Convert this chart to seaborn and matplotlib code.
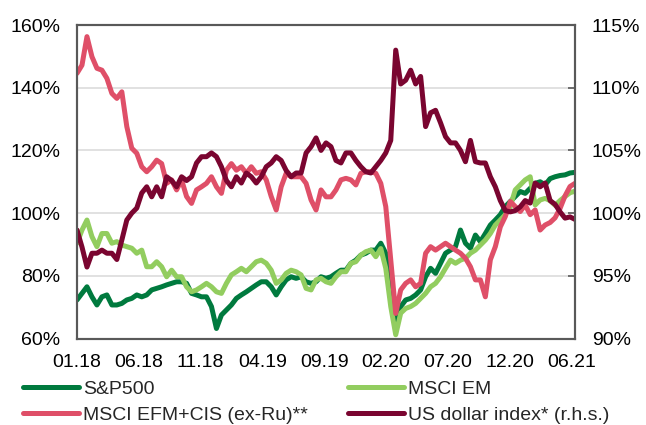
import numpy as np
import matplotlib
matplotlib.use("Agg")
import matplotlib.pyplot as plt
import seaborn as sns

# index values (about two-week steps, Jan 2018 - Jun 2021)
sp500 = [72.3, 74.4, 76.5, 73.3, 70.7, 73.3, 73.9, 70.7, 70.7, 71.2, 72.3, 72.8, 73.9,
         73.3, 73.9, 75.5, 76.0, 76.5, 77.1, 77.6, 78.1, 78.1, 77.6, 74.4, 73.9, 73.3,
         73.3, 70.2, 63.2, 67.5, 69.1, 70.7, 72.8, 73.9, 74.9, 76.0, 77.1, 78.1, 78.1,
         76.5, 73.9, 76.5, 78.7, 79.7, 79.2, 79.7, 78.1, 77.6, 78.1, 79.7, 79.2,
         79.7, 80.8, 81.8, 81.8, 84.0, 85.0, 86.6, 87.2, 88.2, 88.2, 90.4, 87.2, 73.3,
         63.8, 70.2, 72.3, 72.8, 73.9, 75.5, 79.7, 82.4, 80.8, 84.0, 87.2, 88.2,
         89.3, 94.6, 90.4, 88.8, 93.0, 90.9, 93.5, 96.2, 97.8, 99.5, 102.1, 103.7, 105.3,
         106.9, 106.3, 107.9, 109.5, 110.0, 109.0, 111.0, 111.6, 112.0, 112.2, 112.8, 113.0]

msci_em = [90.4, 94.6, 97.8, 92.5, 89.3, 93.5, 93.5, 90.4, 90.9, 89.8, 89.3, 88.8, 87.2,
           88.2, 82.9, 82.9, 84.5, 82.9, 79.7, 81.8, 79.7, 79.7, 76.5, 74.9, 75.5, 76.5,
           77.6, 76.5, 74.9, 74.4, 77.6, 80.3, 81.3, 82.4, 81.3, 82.9, 84.5, 85.0, 84.0,
           81.8, 77.6, 78.7, 80.8, 81.8, 81.3, 80.3, 76.0, 75.5, 78.7, 79.2, 78.1,
           77.6, 79.7, 81.3, 81.3, 84.0, 84.5, 86.6, 87.7, 88.2, 86.1, 88.7, 82.4, 70.2,
           61.2, 68.1, 69.6, 70.2, 71.2, 72.8, 74.4, 76.5, 77.6, 79.7, 82.4, 85.0,
           84.0, 85.0, 85.6, 87.2, 88.2, 89.8, 91.4, 93.5, 96.2, 97.8, 99.5, 102.1, 107.4,
           109.0, 110.6, 111.6, 102.6, 104.2, 104.7, 104.0, 102.5, 104.0, 105.3, 106.5, 107.0]

msci_efm_cis = [144.6, 147.2, 156.3, 149.9, 146.2, 145.6, 143.0, 138.2, 136.6, 138.7, 127.6,
                120.7, 119.1, 114.8, 113.2, 114.8, 116.9, 115.8, 109.5, 110.6, 107.4, 110.6,
                105.3, 103.1, 107.4, 108.4,
                109.5, 111.6, 108.4, 106.3, 113.7, 115.8, 113.7, 114.8, 112.7, 114.8, 112.7,
                113.2, 110.6, 105.3, 101.0, 108.4, 112.7, 111.6, 111.6, 111.6, 109.5, 104.2,
                101.0, 107.4, 105.2,
                105.2, 107.4, 110.6, 111.1, 110.6, 109.0, 112.7, 113.2, 113.2, 112.7, 109.5,
                102.1, 85.1, 68.0, 75.5, 77.6, 78.7, 76.5, 77.6, 87.2, 89.3, 88.2, 89.3, 90.4,
                89.3,
                88.2, 87.2, 85.6, 82.9, 78.7, 78.7, 73.3, 85.1, 89.3, 95.6, 98.9, 103.7, 102.1,
                100.5, 102.6, 99.5, 101.0, 94.6, 96.2, 97.0, 98.5, 101.5, 105.5, 108.5, 109.5]

usd_index = [98.65, 97.3, 95.7, 96.8, 96.8, 97.05, 96.8, 96.8, 96.3, 97.85, 99.45, 100.0,
             100.4, 101.6, 102.1, 101.3, 102.1, 101.3, 102.9, 102.6, 102.1, 102.9, 102.6,
             102.9, 104.0, 104.5,
             104.5, 104.8, 104.5, 103.7, 102.6, 102.1, 102.9, 102.4, 103.2, 102.9, 102.4,
             102.9, 103.7, 104.0, 104.5, 104.2, 103.4, 102.9, 103.2, 103.2, 104.8, 105.3,
             106.0, 105.0, 105.6,
             105.3, 104.2, 104.0, 104.8, 104.8, 104.2, 103.7, 103.3, 103.2, 103.7, 104.2,
             104.8, 105.8, 113.0, 110.3, 110.6, 111.4, 110.3, 110.9, 106.9, 108.0, 108.2,
             107.2, 106.1, 105.6,
             105.6, 105.0, 104.1, 105.8, 104.1, 104.0, 104.0, 102.9, 102.1, 101.0, 100.2,
             100.1, 100.2, 100.5, 101.0, 100.8, 102.4, 102.1, 102.4, 101.0, 100.7, 100.1,
             99.6, 99.7, 99.5]

tick_labels = ["01.18", "06.18", "11.18", "04.19", "09.19", "02.20", "07.20", "12.20", "06.21"]
series_names = ["S&P500", "MSCI EM", "MSCI EFM+CIS (ex-Ru)**", "US dollar index* (r.h.s.)"]

# position on the axis, in months-ish units (ticks every 5)
x = np.linspace(0, 40.3, len(sp500))

sns.set_style("white")
plt.rcParams["font.family"] = ["Liberation Sans", "DejaVu Sans"]

colors = {"sp": "#007a3e", "em": "#92cd5f", "efm": "#df4f68", "usd": "#7a0530"}
lw = 3.6

fig = plt.figure(figsize=(6.46, 4.25), dpi=100)
ax = fig.add_axes([0.1192, 0.2035, 0.7709, 0.7376])
ax2 = ax.twinx()

line_kw = dict(linewidth=lw, legend=False, solid_capstyle="round", solid_joinstyle="round")
sns.lineplot(x=x, y=sp500, ax=ax, color=colors["sp"], label=series_names[0], **line_kw)
sns.lineplot(x=x, y=msci_em, ax=ax, color=colors["em"], label=series_names[1], **line_kw)
sns.lineplot(x=x, y=msci_efm_cis, ax=ax, color=colors["efm"], label=series_names[2], **line_kw)
sns.lineplot(x=x, y=usd_index, ax=ax2, color=colors["usd"], label=series_names[3], **line_kw)

ax.set_xlim(0, 40.3)
ax.set_ylim(60, 160)
ax2.set_ylim(90, 115)

ax.set_xticks(np.arange(0, 41, 5))
ax.set_xticklabels(tick_labels)
ax.set_yticks(np.arange(60, 161, 20))
ax.set_yticklabels([f"{v}%" for v in range(60, 161, 20)])
ax2.set_yticks(np.arange(90, 116, 5))
ax2.set_yticklabels([f"{v}%" for v in range(90, 116, 5)])

ax.grid(axis="y", color="#d9d9d9", linewidth=1.1)
ax.set_axisbelow(True)
ax.set_xlabel("")
ax.set_ylabel("")
ax2.set_ylabel("")

fs = 14
ax.tick_params(axis="y", length=0, pad=12, labelsize=fs, labelcolor="black")
ax.tick_params(axis="x", direction="in", length=5, width=1.2, color="#595959", pad=11,
               labelsize=fs, labelcolor="black")
ax2.tick_params(axis="y", direction="in", length=5, width=1.2, color="#595959", pad=12,
                labelsize=fs, labelcolor="black")

for a in (ax, ax2):
    for s in a.spines.values():
        s.set_color("#595959")
        s.set_linewidth(1.5)
        s.set_visible(True)

# legend: two columns, S&P / EFM in the first, EM / USD in the second
h1, l1 = ax.get_legend_handles_labels()
h2, l2 = ax2.get_legend_handles_labels()
handles = dict(zip(l1 + l2, h1 + h2))
order = [series_names[0], series_names[2], series_names[1], series_names[3]]
fig.legend([handles[k] for k in order], order, ncol=2, loc="upper left",
           bbox_to_anchor=(23 / 646, 1 - 380 / 425), frameon=False, fontsize=fs,
           handlelength=2.9, handletextpad=0.2, columnspacing=2.05, labelspacing=0.45,
           borderpad=0, borderaxespad=0)

fig.savefig("out.png", dpi=100)
